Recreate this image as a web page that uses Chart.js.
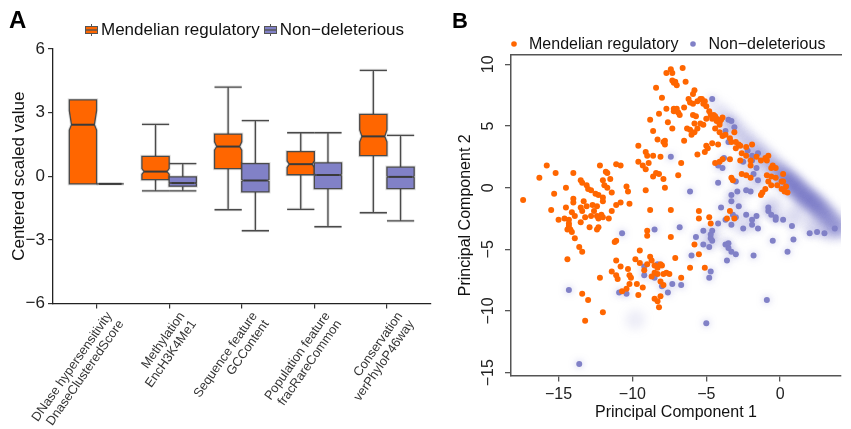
<!DOCTYPE html>
<html>
<head>
<meta charset="utf-8">
<script src="https://cdn.jsdelivr.net/npm/chart.js@4.4.1/dist/chart.umd.min.js"></script>
<style>
  body { margin: 0; background: #fff; font-family: "Liberation Sans", Arial, sans-serif; }
  #wrap { position: relative; width: 851px; height: 429px; overflow: hidden; }
  #wrap canvas.chart { position: absolute; top: 0; }
  .tag { position: absolute; font-weight: bold; color: #000; line-height: 1; }
  .legend { position: absolute; display: flex; align-items: center; white-space: nowrap; color: #111; }
  .legend canvas { display: block; }
</style>
</head>
<body>
<div id="wrap">
  <canvas class="chart" id="boxes" width="440" height="429" style="left:0"></canvas>
  <canvas class="chart" id="pca" width="411" height="429" style="left:440px"></canvas>
  <div class="tag" style="left:9px;top:8px;font-size:24px">A</div>
  <div class="tag" style="left:452px;top:10px;font-size:22px">B</div>
  <div class="legend" id="legendA" style="left:85px;top:20px;font-size:17px;line-height:20px"></div>
  <div class="legend" id="legendB" style="left:511px;top:34px;font-size:16px;line-height:19px"></div>
</div>
<script>
// ---- panel A: feature distributions (box statistics)
const FEATURES = [
  ["DNase hypersensitivity", "DnaseClusteredScore"],
  ["Methylation", "EncH3K4Me1"],
  ["Sequence feature", "GCContent"],
  ["Population feature", "fracRareCommon"],
  ["Conservation", "verPhyloP46way"]
];
const GROUPS = ["Mendelian regulatory", "Non\u2212deleterious"];

const MEND_MIN = [-0.36, -0.69, -1.58, -1.56, -1.72];
const MEND_Q1 = [-0.36, -0.16, 0.36, 0.07, 0.97];
const MEND_MED = [2.43, 0.22, 1.40, 0.57, 1.88];
const MEND_Q3 = [3.60, 0.94, 1.99, 1.16, 2.92];
const MEND_MAX = [3.60, 2.45, 4.20, 2.05, 4.99];
const MEND_NOTCH_LO = [2.18, 0.09, 1.23, 0.41, 1.62];
const MEND_NOTCH_HI = [3.09, 0.36, 1.62, 0.72, 2.18];

const NON_MIN = [-0.36, -0.69, -2.57, -2.38, -2.10];
const NON_Q1 = [-0.36, -0.47, -0.74, -0.58, -0.58];
const NON_MED = [-0.36, -0.32, -0.20, 0.06, -0.03];
const NON_Q3 = [-0.36, -0.03, 0.60, 0.63, 0.43];
const NON_MAX = [-0.36, 0.60, 2.62, 2.05, 1.93];
const NON_NOTCH_LO = [-0.36, -0.35, -0.24, 0.02, -0.07];
const NON_NOTCH_HI = [-0.36, -0.29, -0.16, 0.10, 0.01];

const Y_TICKS_A = [-6, -3, 0, 3, 6];

// ---- panel B: principal components
const MEND_PC1 = [
  -7.7, -7.4, -7.3, -7.3, -7.2, -8.4, -8.0, -7.7, -7.2, -7.2, -8.2, -8.8,
  -7.6, -7.3, -8.6, -8.3, -7.8, -7.9, -7.8, -9.6, -9.1, -9.0, -8.6, -8.1,
  -9.6, -9.3, -8.9, -9.1, -8.6, -8.4, -8.2, -7.9, -7.8, -9.1, -7.4, -8.8,
  -15.8, -15.2, -16.3, -14.0, -12.2, -11.1, -10.8, -11.8, -11.7, -11.5, -12.0, -13.5,
  -13.4, -13.1, -14.5, -13.0, -12.8, -15.3, -11.9, -11.7, -11.4, -10.4, -10.3, -12.5,
  -12.3, -12.0, -14.0, -13.3, -12.0, -14.0, -17.4, -13.1, -13.5, -12.7, -12.4, -14.5,
  -10.8, -11.1, -10.2, -15.5, -14.1, -13.4, -12.6, -12.1, -12.8, -12.4, -11.4, -13.9,
  -14.6, -13.2, -15.0, -11.6,
  -14.3, -13.5, -12.3, -12.0, -14.3, -14.3, -14.4, -14.2, -14.1, -12.9, -12.4, -12.3,
  -13.9, -13.6, -13.4, -14.4, -11.1, -11.2, -9.0, -9.0, -7.4, -9.5, -9.8, -8.8,
  -8.7, -9.0, -9.5, -11.1, -10.8, -10.3, -11.4, -11.1, -11.0, -10.2, -10.1, -12.2,
  -10.2, -9.7, -9.3, -9.6, -9.2, -8.5, -8.3, -8.1, -8.0, -8.3, -8.5, -8.3,
  -7.9, -7.7, -7.5, -8.7, -8.1, -7.9, -8.1, -8.5, -8.3, -8.2, -13.4, -13.0,
  -12.0, -13.2, -10.7, -10.4, -7.1,
  -6.6, -7.1, -7.0, -6.4, -5.8, -5.9, -6.2, -6.1, -5.9, -5.6, -5.4, -5.3,
  -5.1, -5.2, -5.0, -7.0, -6.9, -6.5, -6.8, -5.9, -5.7, -4.8, -4.7, -4.5,
  -4.4, -4.3, -4.3, -4.1, -4.1, -4.0, -3.9, -4.6, -5.0, -5.2, -5.4, -5.8,
  -6.3, -6.1, -5.8, -5.6, -6.0, -6.5, -4.4, -4.1, -3.9, -3.7, -3.4, -3.3,
  -3.1, -3.0, -2.8, -2.7, -3.0, -2.6, -2.3, -1.9, -2.3, -2.0, -1.6, -1.3,
  -1.0, -0.8, -0.9, -0.5, -0.3, -0.6, -0.9, -0.6, -0.3, 0.1, -0.2, 0.2,
  0.2, 0.4, 0.5, -0.8, -0.6, -1.0, -1.2, -1.3, 0.1, 0.3, -4.6, -4.2,
  -5.0, -4.9, -5.1, -5.6, -4.4, -4.1, -3.9, -3.4, -2.7, -2.0, -2.6, -2.3,
  -2.0, -3.3, -3.2, -6.7, -6.9, -5.5, -4.8, -3.4, -3.6, -3.1,
  -5.5, -4.7, -5.8, -5.5, -6.1, -5.1, -6.7
];
const MEND_PC2 = [
  9.3, 9.6, 9.3, 8.7, 8.5, 8.1, 7.3, 6.4, 6.4, 6.2, 6.0, 5.5,
  5.3, 4.8, 4.6, 3.9, 3.8, 3.7, 3.5, 3.4, 2.9, 2.6, 2.6, 2.5,
  2.1, 1.8, 2.0, 1.5, 0.9, 1.2, 1.1, 0.7, 0.0, -0.2, -1.8, -1.8,
  1.8, 1.2, 0.8, 1.2, 1.8, 1.9, 1.8, 1.3, 1.2, 0.7, 0.6, 0.6,
  0.4, 0.2, 0.0, -0.1, -0.2, -0.5, 0.2, 0.0, -0.4, 0.1, -0.3, -0.5,
  -0.6, -0.8, -0.9, -1.1, -1.1, -1.2, -1.0, -1.5, -1.6, -1.4, -1.5, -1.6,
  -1.2, -1.4, -1.3, -1.8, -2.0, -1.9, -1.9, -2.2, -2.3, -2.3, -1.9, -2.3,
  -2.5, -2.4, -2.6, -2.5,
  -2.6, -2.8, -2.5, -2.4, -2.9, -3.1, -3.4, -3.4, -3.6, -3.2, -3.4, -3.2,
  -4.1, -4.8, -5.2, -5.8, -4.3, -4.4, -3.5, -3.9, -4.0, -5.1, -5.8, -5.6,
  -5.9, -6.2, -6.1, -5.9, -6.4, -6.6, -6.8, -7.1, -7.4, -7.1, -7.3, -7.3,
  -7.8, -7.8, -8.1, -8.7, -6.7, -6.3, -6.4, -6.2, -6.3, -6.5, -6.9, -7.0,
  -7.0, -6.9, -7.0, -7.2, -7.6, -7.9, -8.8, -9.0, -9.2, -9.7, -8.6, -9.1,
  -10.1, -10.8, -8.4, -8.2, -5.7,
  9.7, 8.6, 8.3, 8.6, 7.9, 7.6, 7.2, 6.9, 6.8, 7.0, 7.2, 7.2,
  7.0, 6.8, 6.6, 6.4, 6.1, 6.5, 5.9, 5.9, 5.8, 6.2, 5.9, 5.9,
  5.8, 5.6, 5.4, 5.3, 5.1, 5.5, 5.7, 5.6, 5.6, 5.1, 5.2, 5.2,
  4.8, 4.7, 4.5, 4.8, 4.3, 3.8, 4.8, 4.5, 4.2, 4.3, 4.0, 3.7,
  4.5, 3.7, 3.5, 3.4, 3.2, 2.8, 3.3, 3.5, 2.6, 2.2, 2.5, 2.2,
  2.4, 2.6, 2.2, 1.8, 1.6, 1.6, 1.0, 0.9, 0.8, 0.5, 0.2, 1.1,
  0.5, 0.1, -0.4, 0.5, 0.2, -0.1, -0.4, -0.6, -0.1, -0.3, 3.6, 3.5,
  3.4, 3.2, 2.9, 2.7, 2.0, 2.1, 2.3, 2.3, 2.2, 1.8, 1.1, 1.0,
  0.8, 0.8, 0.6, 2.0, 1.0, -1.9, -2.4, -1.9, -2.5, -2.5,
  -2.5, -2.9, -4.6, -5.4, -6.5, -6.5, -7.3
];

const NON_PC1 = [
  -7.4, -4.6, -3.5, -3.3, -3.1, -3.7, -3.5, -3.8, -4.2, -3.9, -2.5, -1.9,
  -2.2, -1.9, -1.5, -1.6, -1.8, -1.5, -3.0, -2.9, -3.3, -3.3, -2.8, -2.3,
  -2.0, -4.2, -6.1, -4.0, -0.8, -0.8, -0.6, -0.3, -1.6, -2.3, -3.2, -10.7,
  -8.5, -14.3, -13.6, -10.9, -10.4, -9.2, -8.3, -9.2, -8.5, -8.0, -7.6, -7.3,
  -6.8, -5.2, -4.6, -4.7, -4.7, -4.6, -5.7, -5.2, -4.8, -3.7, -3.5, -3.5,
  -3.3, -3.0, -3.6, -4.7, -4.8, -6.0, -6.7, -1.8, -0.9, -5.0, -4.2, -3.7,
  -3.3, -3.0, -2.5, -1.9, -1.9, -1.5, -0.3, 0.2, 0.8, 0.9, -0.5, 0.5,
  2.0, 2.5, 3.0, 3.7
];
const NON_PC2 = [
  2.5, 7.2, 5.5, 5.4, 4.9, 4.6, 3.7, 2.4, 1.8, 1.6, 2.1, 2.2,
  3.0, 2.6, 2.8, 1.6, 1.1, 0.6, 0.5, -0.3, -0.6, -1.1, -1.5, -0.2,
  -0.3, 0.4, -0.3, -1.6, -1.6, -1.9, -2.2, -2.4, -2.3, -2.2, -2.2, -3.7,
  -3.4, -8.3, -14.3, -8.5, -8.6, -6.4, -6.2, -7.1, -7.3, -8.0, -8.5, -7.8,
  -3.2, -3.5, -3.5, -3.8, -4.1, -4.3, -4.0, -4.6, -4.8, -4.6, -4.5, -4.9,
  -5.2, -5.4, -5.9, -6.8, -7.3, -5.5, -7.9, -5.5, -9.1, -11.0, -2.9, -2.6,
  -3.0, -2.4, -3.3, -2.6, -3.0, -3.3, -2.6, -2.6, -3.1, -4.2, -4.3, -5.2,
  -3.7, -3.6, -3.7, -3.3
];

// smoothed density of the bulk of non-deleterious variants
const DENSITY_PC1 = [
  0.0, 0.5, 1.0, 1.5, 2.0, 2.5, 3.0, 3.5, 4.0,
  -0.6, -1.2, -1.8, -2.4, -3.0, -3.6, -4.2,
  -1.5, -2.5, -0.5, 1.0, 2.2, 3.3, -2.5, -4.5, -3.0,
  -9.8
];
const DENSITY_PC2 = [
  1.2, 0.6, 0.1, -0.5, -1.0, -1.5, -2.1, -2.7, -3.3,
  1.9, 2.6, 3.3, 4.0, 4.8, 5.5, 6.2,
  0.5, 1.5, -1.5, -2.2, -3.0, -3.5, -3.0, -4.0, -1.0,
  -10.7
];
const DENSITY_LEVEL = [
  0.8, 1, 1, 1, 1, 0.95, 0.85, 0.7, 0.6,
  0.55, 0.45, 0.4, 0.35, 0.3, 0.25, 0.2,
  0.25, 0.2, 0.3, 0.3, 0.3, 0.3, 0.2, 0.15, 0.15,
  0.15
];

const ORANGE = "#ff6600";
const PURPLE = "#8181c7";
const BOX_WIDTH = 0.375;

Chart.defaults.font.family = "'Liberation Sans', Arial, sans-serif";
Chart.defaults.color = "#222";

const minus = v => String(v).replace("-", "\u2212");
const zip = (xs, ys) => xs.map((x, i) => ({ x, y: ys[i] }));

const notchedBoxes = {
  id: "notchedBoxes",
  afterDatasetsDraw(chart) {
    const { ctx, scales: { x, y } } = chart;
    const half = BOX_WIDTH / 2;
    chart.data.datasets.forEach(ds => {
      const s = ds.stats;
      s.med.forEach((med, i) => {
        const cx = i + 1 + ds.shift;
        const l = x.getPixelForValue(cx - half);
        const r = x.getPixelForValue(cx + half);
        const m = x.getPixelForValue(cx);
        const inset = (r - l) * 0.08;
        const py = v => y.getPixelForValue(v);
        ctx.save();
        ctx.lineCap = "butt";
        // whiskers
        const whisk = (color, w) => {
          ctx.strokeStyle = color;
          ctx.lineWidth = w;
          ctx.beginPath();
          ctx.moveTo(m, py(s.q3[i])); ctx.lineTo(m, py(s.max[i]));
          ctx.moveTo(m, py(s.q1[i])); ctx.lineTo(m, py(s.min[i]));
          if (s.max[i] > s.q3[i]) { ctx.moveTo(l, py(s.max[i])); ctx.lineTo(r, py(s.max[i])); }
          if (s.min[i] < s.q1[i]) { ctx.moveTo(l, py(s.min[i])); ctx.lineTo(r, py(s.min[i])); }
          ctx.stroke();
        };
        whisk("rgba(0,0,0,0.12)", 3.2);
        whisk("#4a4a4a", 1.3);
        // notched box
        const path = () => {
          ctx.beginPath();
          ctx.moveTo(l, py(s.q3[i]));
          ctx.lineTo(r, py(s.q3[i]));
          ctx.lineTo(r, py(s.nhi[i]));
          ctx.lineTo(r - inset, py(med));
          ctx.lineTo(r, py(s.nlo[i]));
          ctx.lineTo(r, py(s.q1[i]));
          ctx.lineTo(l, py(s.q1[i]));
          ctx.lineTo(l, py(s.nlo[i]));
          ctx.lineTo(l + inset, py(med));
          ctx.lineTo(l, py(s.nhi[i]));
          ctx.closePath();
        };
        path();
        ctx.strokeStyle = "rgba(0,0,0,0.12)";
        ctx.lineWidth = 3.2;
        ctx.stroke();
        ctx.fillStyle = ds.fill;
        ctx.fill();
        ctx.strokeStyle = "#4a4a4a";
        ctx.lineWidth = 1.3;
        ctx.stroke();
        // median
        ctx.beginPath();
        ctx.moveTo(l + inset, py(med));
        ctx.lineTo(r - inset, py(med));
        ctx.strokeStyle = "#3a3a3a";
        ctx.lineWidth = 2;
        ctx.stroke();
        ctx.restore();
      });
    });
  }
};

new Chart(document.getElementById("boxes"), {
  type: "scatter",
  data: {
    datasets: [
      {
        label: GROUPS[0], fill: ORANGE, shift: -BOX_WIDTH / 2,
        data: zip(MEND_MED.map((v, i) => i + 1 - BOX_WIDTH / 2), MEND_MED),
        stats: { min: MEND_MIN, q1: MEND_Q1, med: MEND_MED, q3: MEND_Q3, max: MEND_MAX, nlo: MEND_NOTCH_LO, nhi: MEND_NOTCH_HI },
        pointRadius: 0
      },
      {
        label: GROUPS[1], fill: PURPLE, shift: BOX_WIDTH / 2,
        data: zip(NON_MED.map((v, i) => i + 1 + BOX_WIDTH / 2), NON_MED),
        stats: { min: NON_MIN, q1: NON_Q1, med: NON_MED, q3: NON_Q3, max: NON_MAX, nlo: NON_NOTCH_LO, nhi: NON_NOTCH_HI },
        pointRadius: 0
      }
    ]
  },
  options: {
    responsive: false,
    animation: false,
    events: [],
    layout: { padding: { left: 0, top: 49, right: 9.5, bottom: 0 } },
    plugins: { legend: { display: false }, tooltip: { enabled: false } },
    scales: {
      x: {
        type: "linear", min: 0.4, max: 5.6,
        ticks: {
          stepSize: 1, includeBounds: false, autoSkip: false,
          minRotation: 55, maxRotation: 55, padding: 1, labelOffset: 13,
          font: { size: 12.8, lineHeight: 1.1 }, color: "#333",
          callback: v => FEATURES[v - 1] || ""
        },
        grid: { display: true, drawOnChartArea: false, drawTicks: true, tickLength: 5, color: "#333", lineWidth: 1.2 },
        border: { display: true, color: "#222", width: 1.3 },
        afterFit: s => { s.height = 125.5; s.paddingLeft = 0; s.paddingRight = 0; }
      },
      y: {
        min: -6, max: 6,
        afterBuildTicks: s => { s.ticks = Y_TICKS_A.map(value => ({ value })); },
        ticks: { padding: 3, font: { size: 17 }, color: "#222", callback: minus },
        grid: { display: true, drawOnChartArea: false, drawTicks: true, tickLength: 5, color: "#333", lineWidth: 1.2 },
        border: { display: true, color: "#222", width: 1.3 },
        title: { display: true, text: "Centered scaled value", font: { size: 17 }, color: "#111", padding: { top: 9, bottom: 0 } },
        afterFit: s => { s.width = 53; s.paddingTop = 0; s.paddingBottom = 0; }
      }
    }
  },
  plugins: [notchedBoxes]
});

// blur the density layer and give outlying points their soft halo
const smoothing = {
  id: "smoothing",
  beforeDatasetDraw(chart, args) {
    const ds = chart.data.datasets[args.index];
    const ctx = chart.ctx;
    if (ds.blur) { ctx.save(); ctx.filter = "blur(5px)"; }
    else if (ds.halo) { ctx.save(); ctx.shadowColor = "rgba(140,140,210,0.6)"; ctx.shadowBlur = 7; }
  },
  afterDatasetDraw(chart, args) {
    const ds = chart.data.datasets[args.index];
    if (ds.blur || ds.halo) chart.ctx.restore();
  }
};

new Chart(document.getElementById("pca"), {
  type: "scatter",
  data: {
    datasets: [
      { label: GROUPS[0], data: zip(MEND_PC1, MEND_PC2), backgroundColor: ORANGE, pointRadius: 3, borderWidth: 0 },
      { label: GROUPS[1], data: zip(NON_PC1, NON_PC2), backgroundColor: PURPLE, pointRadius: 3, borderWidth: 0, halo: true },
      {
        label: "density", data: zip(DENSITY_PC1, DENSITY_PC2), blur: true, pointRadius: 10, borderWidth: 0,
        backgroundColor: c => `rgba(115,115,196,${Math.min(0.95, 0.85 * DENSITY_LEVEL[c.dataIndex]).toFixed(3)})`
      }
    ]
  },
  options: {
    responsive: false,
    animation: false,
    events: [],
    layout: { padding: { left: 0, top: 55, right: 0, bottom: 0 } },
    plugins: { legend: { display: false }, tooltip: { enabled: false } },
    scales: {
      x: {
        type: "linear", min: -18.22, max: 4.12,
        ticks: { stepSize: 5, includeBounds: false, padding: 3, font: { size: 16 }, color: "#222", callback: minus },
        grid: { display: true, drawOnChartArea: false, drawTicks: true, tickLength: 6, color: "#555", lineWidth: 1.3 },
        border: { display: true, color: "#555", width: 1.5 },
        title: { display: true, text: "Principal Component 1", font: { size: 16 }, color: "#111", padding: { top: 0, bottom: 7 } },
        afterFit: s => { s.height = 53.5; s.paddingLeft = 0; s.paddingRight = 0; }
      },
      xTop: {
        type: "linear", position: "top",
        ticks: { display: false },
        grid: { display: false },
        border: { display: true, color: "#555", width: 1.5 },
        afterFit: s => { s.height = 0; }
      },
      y: {
        min: -15.23, max: 10.76,
        ticks: { stepSize: 5, includeBounds: false, minRotation: 90, maxRotation: 90, crossAlign: "center", padding: 2.5, font: { size: 16 }, color: "#222", callback: minus },
        grid: { display: true, drawOnChartArea: false, drawTicks: true, tickLength: 6, color: "#555", lineWidth: 1.3 },
        border: { display: true, color: "#555", width: 1.5 },
        title: { display: true, text: "Principal Component 2", font: { size: 16 }, color: "#111", padding: { top: 16, bottom: 0 } },
        afterFit: s => { s.width = 71; s.paddingTop = 0; s.paddingBottom = 0; }
      }
    }
  },
  plugins: [smoothing]
});

// html legends
function boxKey(color) {
  const c = document.createElement("canvas");
  c.width = 13; c.height = 12;
  const g = c.getContext("2d");
  g.strokeStyle = "#555"; g.lineWidth = 1;
  g.beginPath(); g.moveTo(6.5, 0); g.lineTo(6.5, 12); g.stroke();
  g.fillStyle = color; g.fillRect(0.5, 2.5, 12, 7);
  g.strokeRect(0.5, 2.5, 12, 7);
  g.beginPath(); g.moveTo(0.5, 6); g.lineTo(12.5, 6); g.lineWidth = 1.4; g.stroke();
  return c;
}
function dotKey(color) {
  const c = document.createElement("canvas");
  c.width = 6; c.height = 6;
  const g = c.getContext("2d");
  g.fillStyle = color;
  g.beginPath(); g.arc(3, 3, 2.8, 0, Math.PI * 2); g.fill();
  return c;
}
function legend(el, keyFn, textGap, itemGap) {
  [ORANGE, PURPLE].forEach((color, i) => {
    const key = keyFn(color);
    if (i > 0) key.style.marginLeft = itemGap + "px";
    const label = document.createElement("span");
    label.textContent = GROUPS[i];
    label.style.marginLeft = textGap + "px";
    el.appendChild(key);
    el.appendChild(label);
  });
}
legend(document.getElementById("legendA"), boxKey, 3, 4);
legend(document.getElementById("legendB"), dotKey, 12, 12);
</script>
</body>
</html>
